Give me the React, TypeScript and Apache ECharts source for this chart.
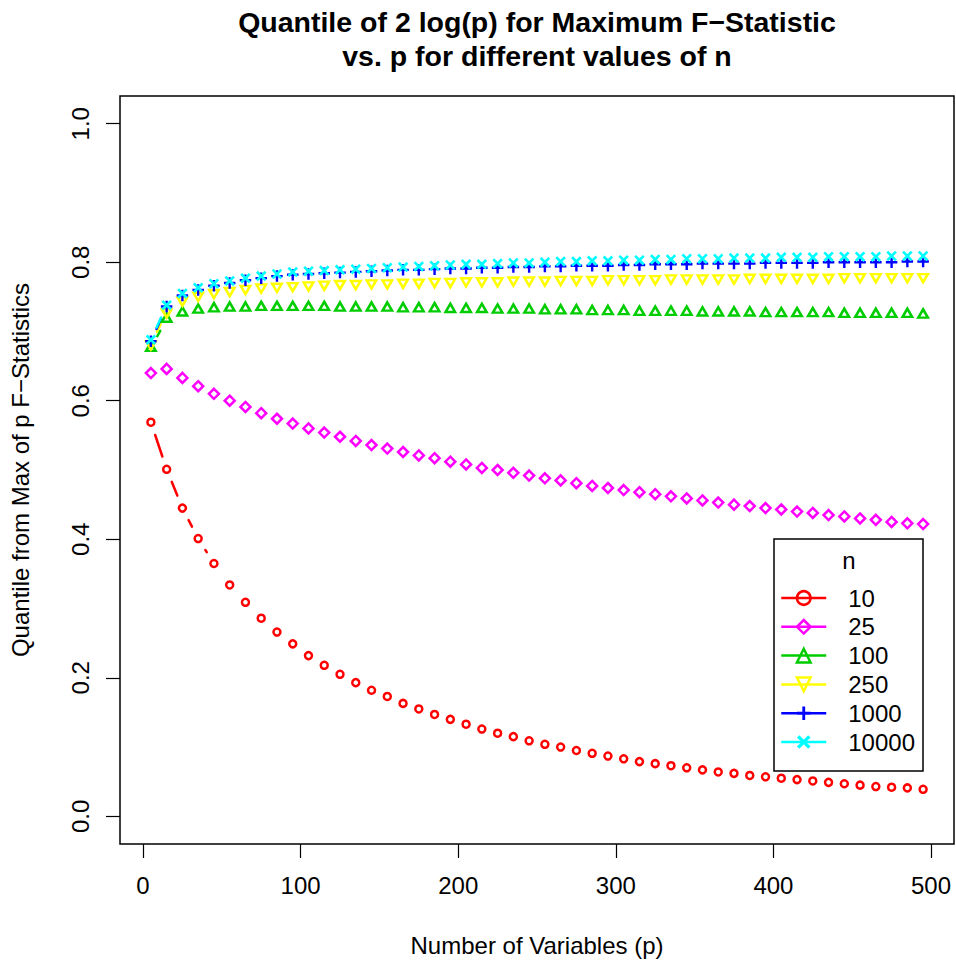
import React, { useEffect, useRef } from 'react';
import * as echarts from 'echarts';

// ---------------- data ----------------
const P = [5, 15, 25, 35, 45, 55, 65, 75, 85, 95, 105, 115, 125, 135, 145, 155, 165, 175, 185, 195,
  205, 215, 225, 235, 245, 255, 265, 275, 285, 295, 305, 315, 325, 335, 345, 355, 365, 375, 385, 395,
  405, 415, 425, 435, 445, 455, 465, 475, 485, 495];

const N_LABELS = ['10', '25', '100', '250', '1000', '10000'];

const Q_N10 = [0.569, 0.501, 0.445, 0.401, 0.365, 0.334, 0.309, 0.286, 0.266, 0.249,
  0.232, 0.218, 0.205, 0.193, 0.182, 0.173, 0.163, 0.155, 0.147, 0.140,
  0.133, 0.126, 0.120, 0.115, 0.109, 0.104, 0.100, 0.095, 0.091, 0.087,
  0.083, 0.079, 0.076, 0.073, 0.070, 0.067, 0.064, 0.062, 0.059, 0.057,
  0.055, 0.053, 0.051, 0.049, 0.047, 0.045, 0.043, 0.042, 0.041, 0.039];

const Q_N25 = [0.640, 0.646, 0.633, 0.621, 0.610, 0.600, 0.591, 0.582, 0.574, 0.567,
  0.560, 0.554, 0.548, 0.542, 0.536, 0.531, 0.526, 0.521, 0.517, 0.512,
  0.508, 0.503, 0.500, 0.496, 0.492, 0.488, 0.485, 0.481, 0.477, 0.474,
  0.471, 0.468, 0.465, 0.462, 0.459, 0.456, 0.453, 0.450, 0.448, 0.445,
  0.443, 0.440, 0.438, 0.435, 0.433, 0.430, 0.428, 0.425, 0.423, 0.422];

const Q_N100 = [0.676, 0.718, 0.727, 0.731, 0.733, 0.734, 0.734, 0.735, 0.735, 0.735,
  0.735, 0.735, 0.734, 0.734, 0.734, 0.734, 0.733, 0.733, 0.733, 0.732,
  0.732, 0.732, 0.731, 0.731, 0.731, 0.730, 0.730, 0.730, 0.729, 0.729,
  0.729, 0.728, 0.728, 0.728, 0.728, 0.727, 0.727, 0.727, 0.727, 0.726,
  0.726, 0.726, 0.726, 0.726, 0.725, 0.725, 0.725, 0.725, 0.725, 0.724];

const Q_N250 = [0.682, 0.728, 0.745, 0.752, 0.756, 0.759, 0.762, 0.764, 0.765, 0.766,
  0.767, 0.768, 0.769, 0.769, 0.770, 0.770, 0.771, 0.771, 0.772, 0.772,
  0.773, 0.773, 0.773, 0.774, 0.774, 0.774, 0.775, 0.775, 0.775, 0.776,
  0.776, 0.776, 0.776, 0.777, 0.777, 0.777, 0.777, 0.777, 0.778, 0.778,
  0.778, 0.778, 0.778, 0.778, 0.779, 0.779, 0.779, 0.779, 0.779, 0.779];

const Q_N1000 = [0.686, 0.736, 0.752, 0.760, 0.766, 0.770, 0.774, 0.777, 0.780, 0.782,
  0.783, 0.784, 0.785, 0.786, 0.787, 0.788, 0.789, 0.789, 0.790, 0.791,
  0.791, 0.792, 0.792, 0.793, 0.793, 0.794, 0.794, 0.795, 0.795, 0.795,
  0.796, 0.796, 0.797, 0.797, 0.797, 0.798, 0.798, 0.798, 0.798, 0.799,
  0.799, 0.799, 0.799, 0.800, 0.800, 0.800, 0.800, 0.800, 0.801, 0.801];

const Q_N10000 = [0.688, 0.738, 0.755, 0.763, 0.769, 0.773, 0.777, 0.780, 0.783, 0.786,
  0.787, 0.788, 0.789, 0.790, 0.791, 0.792, 0.793, 0.794, 0.795, 0.796,
  0.797, 0.797, 0.798, 0.799, 0.799, 0.800, 0.801, 0.801, 0.802, 0.802,
  0.803, 0.803, 0.804, 0.804, 0.805, 0.805, 0.805, 0.806, 0.806, 0.806,
  0.807, 0.807, 0.807, 0.808, 0.808, 0.808, 0.808, 0.809, 0.809, 0.809];

const X_TICKS = [0, 100, 200, 300, 400, 500];
const Y_TICKS = [0, 0.2, 0.4, 0.6, 0.8, 1.0];

const TITLE = 'Quantile of 2 log(p) for Maximum F\u2212Statistic\nvs. p for different values of n';
const X_NAME = 'Number of Variables (p)';
const Y_NAME = 'Quantile from Max of p F\u2212Statistics';
const LEGEND_TITLE = 'n';

// ---------------- styles ----------------
const FONT = "'Liberation Sans', Arial, Helvetica, sans-serif";
const PLUS = 'path://M0,4.75H12V7.25H0Z M4.75,0H7.25V12H4.75Z';
const CROSS = 'path://M0,1.77L1.77,0L10,8.23L8.23,10Z M8.23,0L10,1.77L1.77,10L0,8.23Z';
const GAP = 13.5;
const LW = 2.5;

const SERIES_VALUES = [Q_N10, Q_N25, Q_N100, Q_N250, Q_N1000, Q_N10000];
const STYLES: any[] = [
  { color: '#FF0000', symbol: 'circle', size: 7, rotate: 0, offset: [0, 0], filled: false },
  { color: '#FF00FF', symbol: 'diamond', size: 10, rotate: 0, offset: [0, 0], filled: false },
  { color: '#00CD00', symbol: 'triangle', size: [9.5, 8.2], rotate: 0, offset: [0, -1.4], filled: false },
  { color: '#FFFF00', symbol: 'triangle', size: [9.5, 8.2], rotate: 180, offset: [0, 1.4], filled: false },
  { color: '#0000FF', symbol: PLUS, size: 11.5, rotate: 0, offset: [0, 0], filled: true },
  { color: '#00FFFF', symbol: CROSS, size: 10.5, rotate: 0, offset: [0, 0], filled: true },
];

function itemStyleFor(s: any) {
  return s.filled
    ? { color: s.color, borderWidth: 0 }
    : { color: 'rgba(0,0,0,0)', borderColor: s.color, borderWidth: LW };
}

export default function App() {
  const ref = useRef<HTMLDivElement>(null);

  useEffect(() => {
    document.body.style.margin = '0';
    if (!ref.current) return;
    const chart = echarts.init(ref.current, undefined, { renderer: 'svg' });

    const series: any[] = [];
    SERIES_VALUES.forEach((vals, i) => {
      const s = STYLES[i];
      const segs = P.slice(0, -1).map((p, j) => [p, vals[j], P[j + 1], vals[j + 1]]);
      series.push({
        type: 'custom',
        name: 'seg-' + N_LABELS[i],
        coordinateSystem: 'cartesian2d',
        silent: true,
        encode: { x: [0, 2], y: [1, 3] },
        data: segs,
        renderItem: (_params: any, api: any) => {
          const a = api.coord([api.value(0), api.value(1)]);
          const b = api.coord([api.value(2), api.value(3)]);
          const dx = b[0] - a[0];
          const dy = b[1] - a[1];
          const d = Math.hypot(dx, dy);
          const f = GAP / d;
          if (!(f < 0.5)) return null;
          return {
            type: 'line',
            shape: { x1: a[0] + f * dx, y1: a[1] + f * dy, x2: b[0] - f * dx, y2: b[1] - f * dy },
            style: { stroke: s.color, lineWidth: LW, lineCap: 'round' },
          };
        },
      });
      series.push({
        type: 'line',
        name: N_LABELS[i],
        data: P.map((p, j) => [p, vals[j]]),
        symbol: s.symbol,
        symbolSize: s.size,
        symbolRotate: s.rotate,
        symbolOffset: s.offset,
        showSymbol: true,
        showAllSymbol: true,
        silent: true,
        lineStyle: { opacity: 0, width: 0 },
        itemStyle: itemStyleFor(s),
      });
    });

    const axisText = { fontFamily: FONT, fontSize: 24, color: '#000' };

    chart.setOption({
      animation: false,
      backgroundColor: '#fff',
      title: {
        text: TITLE,
        left: 537,
        top: 5,
        textAlign: 'center',
        padding: 0,
        textStyle: { fontFamily: FONT, fontSize: 28.5, fontWeight: 'bold', color: '#000', lineHeight: 34 },
      },
      grid: {
        left: 120, top: 96, right: 2, bottom: 118,
        show: true, borderColor: '#000', borderWidth: 1.5, backgroundColor: 'rgba(0,0,0,0)',
      },
      xAxis: {
        type: 'value',
        min: -14.6,
        max: 514.6,
        axisLine: { show: false, onZero: false },
        splitLine: { show: false },
        axisTick: { show: true, inside: false, length: 14, customValues: X_TICKS, lineStyle: { color: '#000', width: 1.2 } },
        axisLabel: { ...axisText, customValues: X_TICKS, margin: 29, formatter: (v: number) => String(v) },
        name: X_NAME,
        nameLocation: 'middle',
        nameGap: 89,
        nameTextStyle: axisText,
      },
      yAxis: {
        type: 'value',
        min: -0.04,
        max: 1.04,
        axisLine: { show: false, onZero: false },
        splitLine: { show: false },
        axisTick: { show: true, inside: false, length: 14, customValues: Y_TICKS, lineStyle: { color: '#000', width: 1.2 } },
        axisLabel: { ...axisText, customValues: Y_TICKS, rotate: 90, margin: 28, formatter: (v: number) => v.toFixed(1) },
        name: Y_NAME,
        nameLocation: 'middle',
        nameRotate: 90,
        nameGap: 88,
        nameTextStyle: axisText,
      },
      legend: {
        orient: 'vertical',
        left: 780,
        top: 586,
        padding: 0,
        itemWidth: 45,
        itemHeight: 17,
        itemGap: 4.8,
        selectedMode: false,
        textStyle: { fontFamily: FONT, fontSize: 24, color: '#000', lineHeight: 24, padding: [0, 0, 0, 17] },
        data: N_LABELS.map((n, i) => ({
          name: n,
          itemStyle: itemStyleFor(STYLES[i]),
          lineStyle: { color: STYLES[i].color, width: LW, opacity: 1, type: 'solid' },
        })),
      },
      graphic: [
        {
          type: 'rect',
          shape: { x: 774, y: 539, width: 149, height: 232 },
          style: { fill: 'rgba(0,0,0,0)', stroke: '#000', lineWidth: 1.5 },
          silent: true,
        },
        {
          type: 'text',
          x: 849,
          y: 560,
          style: { text: LEGEND_TITLE, fontFamily: FONT, fontSize: 24, fill: '#000', align: 'center', verticalAlign: 'middle' },
          silent: true,
        },
      ],
      series,
    });

    return () => chart.dispose();
  }, []);

  return <div ref={ref} style={{ width: 956, height: 962 }} />;
}
